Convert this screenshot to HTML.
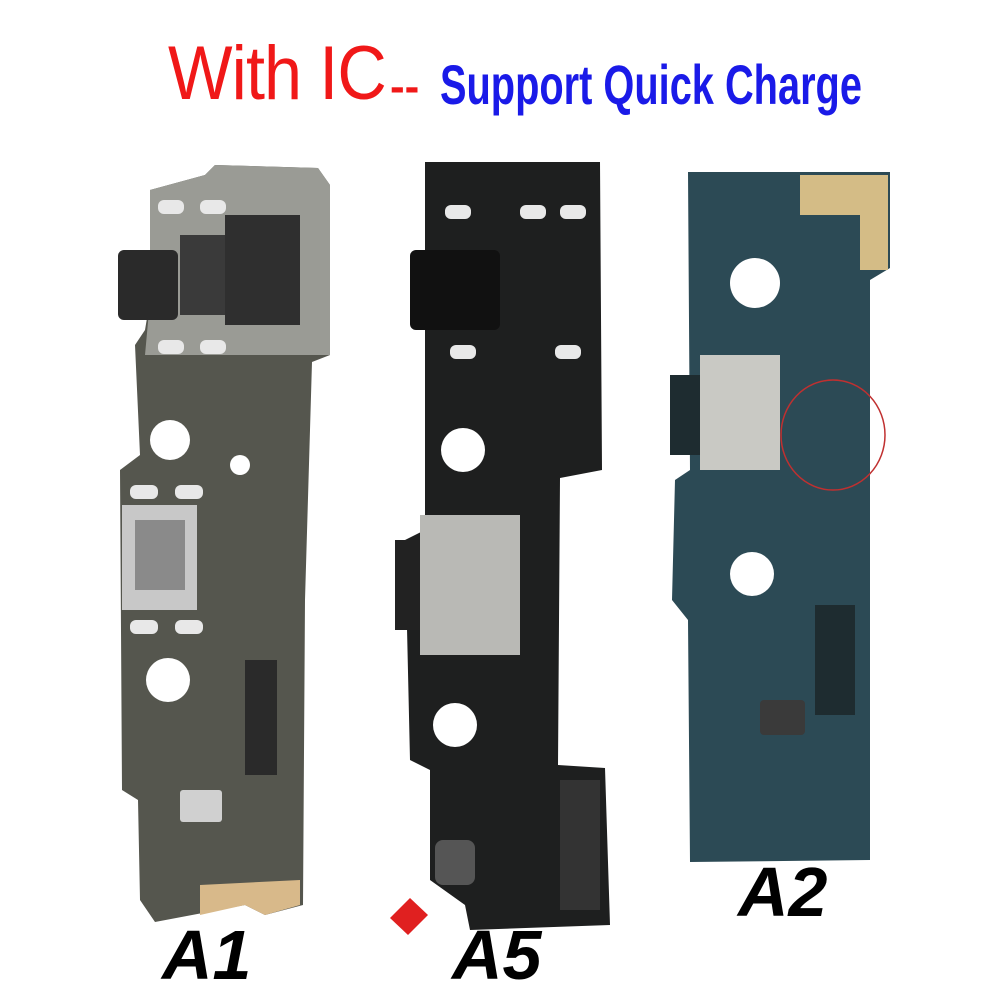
<!DOCTYPE html>
<html><head><meta charset="utf-8"><style>
html,body{margin:0;padding:0;background:#fff;}
body{width:1000px;height:1000px;overflow:hidden;position:relative;font-family:"Liberation Sans",sans-serif;}
.t{position:absolute;white-space:nowrap;}
</style></head><body>
<div class="t" style="left:168px;top:30px;font-size:76px;color:#f01818;letter-spacing:-1px;transform:scaleX(0.9);transform-origin:left;">With IC</div>
<div class="t" style="left:390px;top:62px;font-size:44px;color:#f01818;font-weight:bold;">--</div>
<div class="t" style="left:440px;top:52px;font-size:56px;color:#1a1ae8;font-weight:bold;transform:scaleX(0.71);transform-origin:left;">Support Quick Charge</div>

<svg width="1000" height="1000" style="position:absolute;left:0;top:0">
<!-- A1 -->
<polygon points="150,190 205,175 215,165 318,168 330,185 330,355 312,362 305,600 303,905 265,915 245,905 155,922 140,900 138,800 122,790 120,470 140,455 135,345 145,330 150,300" fill="#55564e"/>
<polygon points="150,190 205,175 215,165 318,168 330,185 330,355 145,355 150,300" fill="#9a9b95"/>
<polygon points="200,885 300,880 300,905 265,915 245,905 200,915" fill="#d8b98a"/>
<rect x="118" y="250" width="60" height="70" rx="6" fill="#2a2a2a"/>
<rect x="225" y="215" width="75" height="110" fill="#2f2f2f"/>
<rect x="180" y="235" width="45" height="80" fill="#3a3a3a"/>
<rect x="122" y="505" width="75" height="105" fill="#c8c8c8"/>
<rect x="135" y="520" width="50" height="70" fill="#8a8a8a"/>
<rect x="245" y="660" width="32" height="115" fill="#2a2a2a"/>
<rect x="180" y="790" width="42" height="32" rx="3" fill="#d0d0d0"/>
<circle cx="170" cy="440" r="20" fill="#fff"/>
<circle cx="168" cy="680" r="22" fill="#fff"/>
<circle cx="240" cy="465" r="10" fill="#fff"/>
<g fill="#e8e8e8">
<rect x="158" y="200" width="26" height="14" rx="6"/><rect x="200" y="200" width="26" height="14" rx="6"/>
<rect x="158" y="340" width="26" height="14" rx="6"/><rect x="200" y="340" width="26" height="14" rx="6"/>
<rect x="130" y="485" width="28" height="14" rx="6"/><rect x="175" y="485" width="28" height="14" rx="6"/>
<rect x="130" y="620" width="28" height="14" rx="6"/><rect x="175" y="620" width="28" height="14" rx="6"/>
</g>
<!-- A5 -->
<polygon points="425,162 600,162 602,470 560,478 558,765 605,768 610,925 470,930 465,905 430,880 430,770 410,760 405,540 425,530" fill="#1e1f1f"/>
<rect x="410" y="250" width="90" height="80" rx="6" fill="#111"/>
<rect x="420" y="515" width="100" height="140" fill="#b9b9b5"/>
<rect x="395" y="540" width="25" height="90" fill="#222"/>
<rect x="560" y="780" width="40" height="130" fill="#333"/>
<rect x="435" y="840" width="40" height="45" rx="8" fill="#555"/>
<circle cx="463" cy="450" r="22" fill="#fff"/>
<circle cx="455" cy="725" r="22" fill="#fff"/>
<polygon points="390,918 410,898 428,915 408,935" fill="#e02020"/>
<g fill="#e8e8e8"><rect x="445" y="205" width="26" height="14" rx="6"/><rect x="520" y="205" width="26" height="14" rx="6"/><rect x="560" y="205" width="26" height="14" rx="6"/><rect x="450" y="345" width="26" height="14" rx="6"/><rect x="555" y="345" width="26" height="14" rx="6"/></g>
<!-- A2 -->
<polygon points="688,172 890,172 890,268 870,280 870,860 690,862 688,620 672,600 675,480 690,470" fill="#2c4a55"/>
<polygon points="800,175 888,175 888,270 860,270 860,215 800,215" fill="#d4bc86"/>
<rect x="700" y="355" width="80" height="115" fill="#c9c9c4"/>
<rect x="670" y="375" width="30" height="80" fill="#1e2c30"/>
<rect x="815" y="605" width="40" height="110" fill="#1e2c30"/>
<rect x="760" y="700" width="45" height="35" rx="4" fill="#3a3a3a"/>
<circle cx="755" cy="283" r="25" fill="#fff"/>
<circle cx="752" cy="574" r="22" fill="#fff"/>
<ellipse cx="833" cy="435" rx="52" ry="55" fill="none" stroke="#c03030" stroke-width="1.5"/>
</svg>

<div class="t" style="left:162px;top:915px;font-size:70px;font-style:italic;font-weight:bold;color:#000;">A1</div>
<div class="t" style="left:452px;top:915px;font-size:70px;font-style:italic;font-weight:bold;color:#000;">A5</div>
<div class="t" style="left:738px;top:852px;font-size:70px;font-style:italic;font-weight:bold;color:#000;">A2</div>
</body></html>
